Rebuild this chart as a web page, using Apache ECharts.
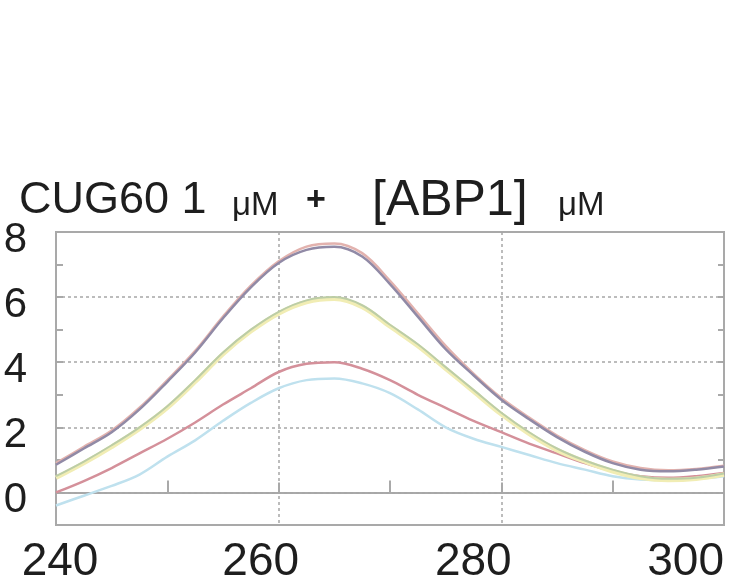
<!DOCTYPE html>
<html>
<head>
<meta charset="utf-8">
<title>CUG60 1 μM + [ABP1] μM</title>
<script src="https://cdn.jsdelivr.net/npm/echarts@6/dist/echarts.min.js"></script>
<style>
  html, body { margin: 0; padding: 0; background: #ffffff; }
  #chart { width: 732px; height: 587px; }
</style>
</head>
<body>
<div id="chart"></div>
<script>
// Wavelength grid (nm)
const wavelengths = [240, 242.5, 245, 247.5, 250, 252.5, 255, 257.5, 260, 262.5, 265, 267.5, 270,
                     272.5, 275, 277.5, 280, 282.5, 285, 287.5, 290, 292.5, 295, 297.5, 300];

// Spectra, one per ABP1 concentration
const curvePink   = [0.9, 1.4, 1.9, 2.6, 3.45, 4.35, 5.4, 6.35, 7.1, 7.55, 7.65, 7.35, 6.5,
                     5.5, 4.5, 3.65, 2.9, 2.3, 1.75, 1.3, 0.95, 0.75, 0.68, 0.72, 0.82];
const curvePurple = [0.85, 1.35, 1.85, 2.55, 3.4, 4.3, 5.35, 6.3, 7.05, 7.45, 7.55, 7.25, 6.4,
                     5.4, 4.4, 3.6, 2.85, 2.25, 1.7, 1.25, 0.9, 0.7, 0.65, 0.7, 0.8];
const curveYellow = [0.45, 0.9, 1.4, 1.95, 2.6, 3.4, 4.25, 4.95, 5.5, 5.85, 5.95, 5.7, 5.1,
                     4.5, 3.8, 3.1, 2.4, 1.8, 1.3, 0.95, 0.65, 0.45, 0.38, 0.42, 0.55];
const curveGreen  = [0.5, 0.95, 1.45, 2.0, 2.65, 3.45, 4.3, 5.0, 5.55, 5.9, 6.0, 5.75, 5.15,
                     4.55, 3.85, 3.15, 2.45, 1.85, 1.35, 0.98, 0.7, 0.5, 0.42, 0.45, 0.58];
const curveRed    = [0.0, 0.35, 0.75, 1.2, 1.65, 2.15, 2.7, 3.2, 3.7, 3.95, 4.0, 3.8, 3.45,
                     3.0, 2.6, 2.2, 1.85, 1.5, 1.2, 0.9, 0.65, 0.5, 0.45, 0.5, 0.6];
const curveBlue   = [-0.4, -0.1, 0.2, 0.55, 1.1, 1.6, 2.2, 2.75, 3.2, 3.45, 3.5, 3.35, 3.05,
                     2.55, 2.0, 1.65, 1.4, 1.15, 0.9, 0.7, 0.5, 0.4, 0.38, 0.42, 0.5];

// Axis ticks
const xTicks = [240, 260, 280, 300];
const yTickLabels = [0, 2, 4, 6, 8];
const yGridValues = [0, 2, 4, 6];

const chart = echarts.init(document.getElementById('chart'), null, { renderer: 'canvas' });

const FONT = '"Liberation Sans", Arial, Helvetica, sans-serif';
const INK = '#1e1e1e';
const FRAME = '#a9a9a9';
const DOTS = '#a6a6a6';

// Horizontal nudges (px) for the wavelength labels
const xLabelShift = { 240: 4, 260: -18, 280: -28, 300: 0 };

function pairs(values) {
  return wavelengths.map((w, i) => [w, values[i]]);
}

function spectrum(name, values, color, width) {
  return {
    name: name,
    type: 'line',
    data: pairs(values),
    smooth: 0.35,
    symbol: 'none',
    silent: true,
    lineStyle: { color: color, width: width },
    z: 3
  };
}

const series = [
  spectrum('blue', curveBlue, '#bfe1ee', 2.5),
  spectrum('red', curveRed, '#d4909a', 2.5),
  spectrum('yellow', curveYellow, '#f1edb4', 4.5),
  spectrum('green', curveGreen, '#bccda6', 2),
  spectrum('pink', curvePink, '#e2b2ae', 2.5),
  spectrum('purple', curvePurple, '#918aa6', 2.5)
];

// Horizontal dotted grid lines at the even values
series[0].markLine = {
  silent: true,
  symbol: ['none', 'none'],
  label: { show: false },
  lineStyle: { color: DOTS, width: 1.5, type: [3, 3] },
  data: yGridValues.map(v => ({ yAxis: v })),
  z: 1
};

// Rich styles for x labels, each padded to sit slightly off its tick
const xRich = {};
xTicks.forEach(t => {
  const s = xLabelShift[t];
  xRich['x' + t] = {
    fontFamily: FONT, fontSize: 46, color: INK,
    padding: s < 0 ? [0, -2 * s, 0, 0] : [0, 0, 0, 2 * s]
  };
});

chart.setOption({
  animation: false,
  backgroundColor: '#ffffff',
  title: {
    left: 19,
    top: 176,
    padding: 0,
    text: '{a|CUG60 1}{m|μM}{p|+}{b|[ABP1]}{m|μM}',
    textStyle: {
      fontWeight: 'normal',
      rich: {
        a: { fontFamily: FONT, fontSize: 45, fontWeight: 'normal', color: INK, width: 213, lineHeight: 50 },
        m: { fontFamily: FONT, fontSize: 33, fontWeight: 'normal', color: INK, width: 74, lineHeight: 50, padding: [9, 0, 0, 0] },
        p: { fontFamily: FONT, fontSize: 34, fontWeight: 'bold', color: INK, width: 66, lineHeight: 50 },
        b: { fontFamily: FONT, fontSize: 50, fontWeight: 'normal', color: INK, width: 186, lineHeight: 50 }
      }
    }
  },
  grid: {
    left: 56, right: 8, top: 232, bottom: 62,
    show: true,
    borderColor: FRAME,
    borderWidth: 2,
    backgroundColor: 'transparent'
  },
  xAxis: {
    type: 'value',
    min: 240,
    max: 300,
    interval: 20,
    axisLine: { show: true, lineStyle: { color: FRAME, width: 2 } },
    axisTick: { show: true, inside: true, length: 10, lineStyle: { color: FRAME, width: 2 } },
    minorTick: { show: true, splitNumber: 2, length: 12, lineStyle: { color: FRAME, width: 2 } },
    splitLine: { show: true, lineStyle: { color: DOTS, width: 1.5, type: [3, 3] } },
    axisLabel: {
      fontFamily: FONT,
      fontSize: 46,
      color: INK,
      margin: 14,
      alignMaxLabel: 'right',
      formatter: v => (xTicks.includes(v) ? '{x' + v + '|' + v + '}' : ''),
      rich: xRich
    }
  },
  yAxis: [
    {
      type: 'value',
      min: -1,
      max: 8,
      interval: 1,
      axisLine: { show: true, lineStyle: { color: FRAME, width: 2 } },
      axisTick: { show: true, inside: true, length: 7, lineStyle: { color: FRAME, width: 2 } },
      splitLine: { show: false },
      axisLabel: {
        margin: 29,
        formatter: v => (yTickLabels.includes(v) ? '{y|' + v + '}' : ''),
        rich: {
          y: { fontFamily: FONT, fontSize: 42, color: INK, padding: [16, 0, 0, 0] }
        }
      }
    },
    {
      type: 'value',
      position: 'right',
      min: -1,
      max: 8,
      interval: 1,
      axisLine: { show: true, lineStyle: { color: FRAME, width: 2 } },
      axisTick: { show: true, inside: true, length: 6, lineStyle: { color: FRAME, width: 2 } },
      splitLine: { show: false },
      axisLabel: { show: false }
    }
  ],
  series: series
});
</script>
</body>
</html>
